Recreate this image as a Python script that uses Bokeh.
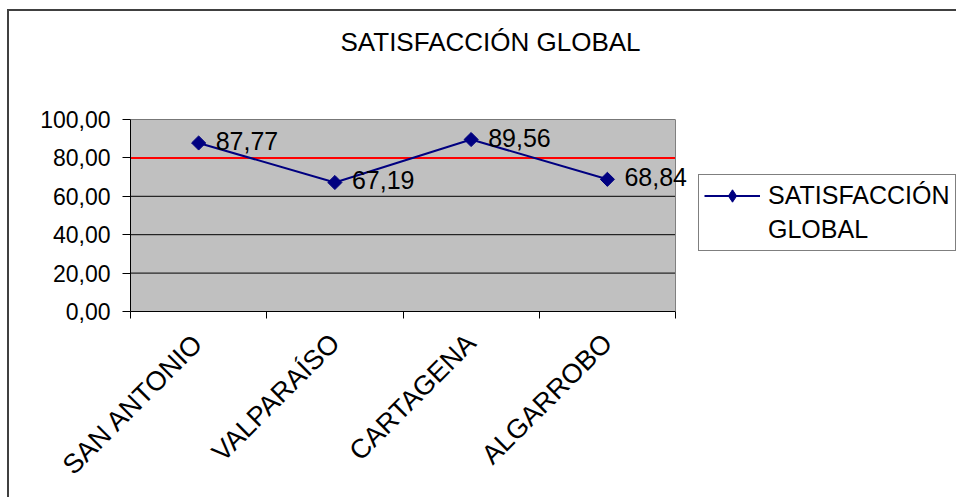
import math
from bokeh.plotting import figure
from bokeh.core.properties import value
from bokeh.models import (Range1d, FixedTicker, LinearAxis, Span, BoxAnnotation, Title,
                          Legend, LegendItem, ColumnDataSource, LabelSet)
from bokeh.embed import file_html
from bokeh.resources import INLINE

# ---- data ----
categories = ["SAN ANTONIO", "VALPARAÍSO", "CARTAGENA", "ALGARROBO"]
values = [87.77, 67.19, 89.56, 68.84]
value_labels = ["87,77", "67,19", "89,56", "68,84"]
y_ticks = [0, 20, 40, 60, 80, 100]
y_tick_labels = ["0,00", "20,00", "40,00", "60,00", "80,00", "100,00"]
threshold = 80
series_name_lines = ["SATISFACCIÓN", "GLOBAL"]
title_text = "SATISFACCIÓN GLOBAL"

FONT = "Liberation Sans"
NAVY = "#000080"
GRAY = "#C0C0C0"

# category slots: centres for points/labels, edges for tick marks
n = len(categories)
centres = [i + 0.5 for i in range(n)]
edges = list(range(n + 1))

# the frame is a little wider than the gray plot area so the last data label is not clipped
PLOT_W, EXTRA_W = 545, 12
x_end = n * (PLOT_W + EXTRA_W) / PLOT_W

p = figure(x_range=Range1d(0, x_end), y_range=Range1d(0, 100),
           frame_width=PLOT_W + EXTRA_W, frame_height=192,
           min_border_left=121, min_border_right=266,
           min_border_top=108, min_border_bottom=186,
           output_backend="svg", toolbar_location=None,
           x_axis_location=None, y_axis_location=None)
p.styles = {"border-top": "2px solid #404040", "border-left": "2px solid #404040",
            "margin-left": "7px", "margin-top": "9px"}

p.background_fill_color = "white"
p.border_fill_color = "white"
p.outline_line_color = None

# visible title
p.title.text = title_text
p.title.align = "left"
p.title.offset = 210
p.title.standoff = 10
p.title.text_font = FONT
p.title.text_font_size = "26px"
p.title.text_font_style = "normal"
p.title.text_color = "black"

# white spacer between frame and title
p.add_layout(Title(text=".", text_color="white", text_font_size="10px", standoff=48), "above")

# gray plot area (category slots 0..n)
p.add_layout(BoxAnnotation(left=edges[0], right=edges[-1], fill_color=GRAY, fill_alpha=1,
                           line_color=None, level="underlay"))

# y axis
yax = LinearAxis(ticker=FixedTicker(ticks=y_ticks),
                 major_label_overrides={t: l for t, l in zip(y_ticks, y_tick_labels)})
yax.major_label_text_font = FONT
yax.major_label_text_font_size = "23px"
yax.major_label_text_color = "black"
yax.major_label_standoff = 12
yax.major_tick_out = 8
yax.major_tick_in = 0
yax.minor_tick_line_color = None
yax.axis_line_color = "black"
yax.major_tick_line_color = "black"
p.add_layout(yax, "left")

# x axis: labels at category centres, tick marks at category edges
xax = LinearAxis(ticker=FixedTicker(ticks=centres, minor_ticks=edges),
                 major_label_overrides={c: name for c, name in zip(centres, categories)},
                 bounds=(edges[0], edges[-1]))
xax.axis_line_color = "black"
xax.major_tick_line_color = None
xax.major_tick_out = 0
xax.major_tick_in = 0
xax.minor_tick_line_color = "black"
xax.minor_tick_out = 7
xax.minor_tick_in = 0
xax.major_label_orientation = math.pi / 4
xax.major_label_text_font = FONT
xax.major_label_text_font_size = "27px"
xax.major_label_text_color = "black"
xax.major_label_standoff = 20
p.add_layout(xax, "below")

# grid lines limited to the gray area
p.ygrid.grid_line_color = None
p.xgrid.grid_line_color = None
p.segment(x0=[edges[0]] * len(y_ticks), x1=[edges[-1]] * len(y_ticks), y0=y_ticks, y1=y_ticks,
          line_color="black", line_width=1)
# right edge of the gray area
p.add_layout(Span(location=edges[-1], dimension="height", line_color="#808080", line_width=1))

# threshold line
p.segment(x0=[edges[0]], x1=[edges[-1]], y0=[threshold], y1=[threshold],
          line_color="#FF0000", line_width=2)

src = ColumnDataSource(dict(x=centres, y=values, lab=value_labels))
line_r = p.line("x", "y", source=src, line_color=NAVY, line_width=2)
# diamond drawn under the rotated squares: gives the legend its (unrotated) diamond swatch
legend_marker = p.scatter("x", "y", source=src, marker="diamond", size=11,
                          fill_color=NAVY, line_color=NAVY)
sc_r = p.scatter("x", "y", source=src, marker="square", angle=math.pi / 4, size=10,
                 fill_color=NAVY, line_color=NAVY)

labels = LabelSet(x="x", y="y", text="lab", source=src, x_offset=17, y_offset=2,
                  text_font=value(FONT), text_font_size=value("25px"), text_color="black",
                  text_align="left", text_baseline="middle")
p.add_layout(labels)

legend = Legend(items=[LegendItem(label=series_name_lines[0], renderers=[line_r, legend_marker]),
                       LegendItem(label=series_name_lines[1], renderers=[])],
                location=(11, 60))
legend.margin = 0
legend.padding = 5
legend.spacing = 3
legend.glyph_width = 56
legend.glyph_height = 31
legend.label_height = 31
legend.label_standoff = 8
legend.label_text_font = FONT
legend.label_text_font_size = "25px"
legend.label_text_color = "black"
legend.border_line_color = "black"
legend.border_line_width = 1
legend.background_fill_color = "white"
legend.background_fill_alpha = 1
p.add_layout(legend, "right")

open("out.html", "w").write(file_html(p, INLINE))
